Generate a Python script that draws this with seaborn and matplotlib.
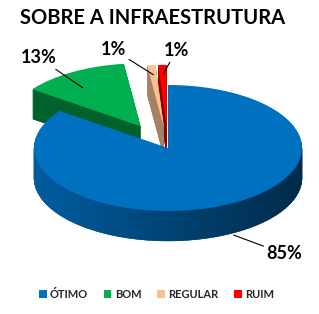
import numpy as np
import matplotlib
matplotlib.use("Agg")
import matplotlib.pyplot as plt
import matplotlib.colors as mcolors
from matplotlib.patches import Patch
from matplotlib.collections import PolyCollection
import seaborn as sns

# ---- data ----
categories = ["ÓTIMO", "BOM", "REGULAR", "RUIM"]
values = [85, 13, 1, 1]
pct_labels = ["85%", "13%", "1%", "1%"]
title = "SOBRE A INFRAESTRUTURA"

# ---- style ----
top_colors = ["#0070C0", "#00B050", "#FAC090", "#FF0000"]
explode = [0.0, 0.40, 0.32, 0.32]

sns.set_theme(style="white")
plt.rcParams['font.family'] = ['Lato', 'DejaVu Sans']

W, H = 319, 314
fig = plt.figure(figsize=(W / 100, H / 100), dpi=100)
ax = fig.add_axes([0, 0, 1, 1])

# ellipse geometry in pixels (center, radii, thickness)
cx, cy, rx, ry, dpx = 168, 148, 134, 63, 30
xlim = (-cx / rx, (W - cx) / rx)
ylim = ((cy - H) / ry, cy / ry)
depth = dpx / ry


def shade(c, f):
    r, g, b = mcolors.to_rgb(c)
    return (r * f, g * f, b * f)


side_colors = [shade(c, 0.55) for c in top_colors]
side_colors[2] = shade("#B08868", 0.95)

# extruded body: stacked layers
n_layers = 45
for k in np.linspace(depth, 0, n_layers, endpoint=False):
    ax.pie(values, colors=side_colors, explode=explode, startangle=90,
           counterclock=False, center=(0, -k),
           wedgeprops=dict(linewidth=0, zorder=1))

# top faces
wedges, _ = ax.pie(values, colors=top_colors, explode=explode, startangle=90,
                   counterclock=False, wedgeprops=dict(linewidth=0, zorder=3))

# shaded outer wall on the front half
for w, col in zip(wedges, top_colors):
    t1, t2 = w.theta1, w.theta2
    ox, oy = w.center
    for s in (-360, 0, 360):
        a0, a1 = max(t1, 180 + s), min(t2, 360 + s)
        if a1 <= a0:
            continue
        angs = np.linspace(a0, a1, 120)
        polys, cols = [], []
        for aa, bb in zip(angs[:-1], angs[1:]):
            ra, rb = np.radians(aa), np.radians(bb)
            xa, ya = ox + np.cos(ra), oy + np.sin(ra)
            xb, yb = ox + np.cos(rb), oy + np.sin(rb)
            polys.append([(xa, ya), (xb, yb), (xb, yb - depth), (xa, ya - depth)])
            c = np.cos((ra + rb) / 2)
            f = 0.84 - 0.23 * (c + 1)
            cols.append(shade(col, f))
        ax.add_collection(PolyCollection(polys, facecolors=cols, edgecolors=cols,
                                         linewidths=0.3, zorder=2))

# labels with leader lines
label_cfg = [  # (anchor radius, anchor drop, text dx, text dy) in data units
    (1.08, 0.42, 0.38, -0.30),
    (0.85, 0.12, -0.33, 0.48),
    (0.85, 0.0, -0.30, 0.40),
    (0.85, 0.0, 0.10, 0.38),
]
for w, lab, (ra, drop, dx, dy) in zip(wedges, pct_labels, label_cfg):
    m = np.radians((w.theta1 + w.theta2) / 2)
    ox, oy = w.center
    axy = (ox + ra * np.cos(m), oy + ra * np.sin(m) - drop)
    txy = (axy[0] + dx, axy[1] + dy)
    ax.annotate(lab, xy=axy, xytext=txy, fontsize=13, fontweight='bold',
                ha='center', va='center', color='black', zorder=5,
                arrowprops=dict(arrowstyle='-', color='black', lw=0.8,
                                shrinkA=0, shrinkB=0))

ax.set_aspect('auto')
ax.set_xlim(*xlim)
ax.set_ylim(*ylim)
ax.axis('off')

fig.text(153 / W, 1 - 18 / H, title, ha='center', va='center',
         fontsize=14.5, fontweight='bold', color='black')

handles = [Patch(facecolor=c, edgecolor='none') for c in top_colors]
fig.legend(handles, categories, loc='center', bbox_to_anchor=(0.49, 1 - 294 / H),
           ncol=4, frameon=False, handlelength=0.7, handleheight=0.7,
           handletextpad=0.3, columnspacing=1.4,
           prop=dict(size=8, weight='bold'))

fig.savefig("out.png", dpi=100)
